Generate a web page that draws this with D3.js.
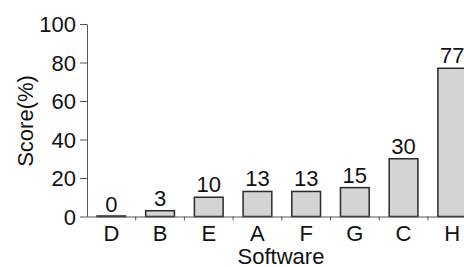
<!DOCTYPE html>
<html>
<head>
<meta charset="utf-8">
<script src="https://cdn.jsdelivr.net/npm/d3@7"></script>
<style>
  body { margin: 0; background: #fff; }
  text { font-family: "Liberation Sans", Arial, sans-serif; fill: #111; }
</style>
</head>
<body>
<div id="chart"></div>
<script>
// data
const software = ["D", "B", "E", "A", "F", "G", "C", "H"];
const scores = [0, 3, 10, 13, 13, 15, 30, 77];
const yTicks = [0, 20, 40, 60, 80, 100];

const W = 464, H = 267;
const plotLeft = 87, plotTop = 24, plotBottom = 216.5;
const fontSize = "22px";

let svg = d3.select("#chart")
    .append("svg")
    .attr("width", W)
    .attr("height", H);

// band scale runs off the right edge, like the source image
let x = d3.scaleBand()
    .domain(software)
    .range([plotLeft, plotLeft + 8 * 48.7])
    .paddingInner(0.41)
    .paddingOuter(0.205);

let y = d3.scaleLinear()
    .domain([0, 100])
    .range([plotBottom, plotTop]);

let data = software.map((s, i) => ({ name: s, score: scores[i] }));

// bars (a zero bar still shows as a flat outline)
svg.selectAll("rect.bar")
    .data(data)
    .enter()
    .append("rect")
    .attr("class", "bar")
    .attr("x", d => x(d.name))
    .attr("y", d => Math.min(y(d.score), plotBottom - 0.5))
    .attr("width", x.bandwidth())
    .attr("height", d => Math.max(0.5, y(0) - y(d.score)))
    .attr("fill", "#d4d4d4")
    .attr("stroke", "#2a2a2a")
    .attr("stroke-width", 1.5);

// value labels
svg.selectAll("text.val")
    .data(data)
    .enter()
    .append("text")
    .attr("class", "val")
    .attr("x", d => x(d.name) + x.bandwidth() / 2)
    .attr("y", d => y(d.score) - 5)
    .attr("text-anchor", "middle")
    .style("font-size", fontSize)
    .text(d => d.score);

// y axis
let yAxis = svg.append("g")
    .attr("transform", `translate(${plotLeft},0)`)
    .call(d3.axisLeft(y).tickValues(yTicks).tickSize(7).tickSizeOuter(0).tickPadding(4));
yAxis.select(".domain").attr("stroke", "#555");
yAxis.selectAll(".tick line").attr("stroke", "#555");
yAxis.selectAll(".tick text")
    .style("font-size", fontSize)
    .attr("dy", "0.36em")
    .attr("fill", "#111");

// x axis: labels centred, ticks between the bands
let xAxis = svg.append("g")
    .attr("transform", `translate(0,${plotBottom})`)
    .call(d3.axisBottom(x).tickSize(0).tickSizeOuter(0).tickPadding(9));
xAxis.select(".domain").attr("stroke", "#555");
xAxis.selectAll(".tick text")
    .style("font-size", fontSize)
    .attr("fill", "#111");

let gap = (x.step() - x.bandwidth()) / 2;
svg.selectAll("line.sep")
    .data(software.slice(1))
    .enter()
    .append("line")
    .attr("class", "sep")
    .attr("x1", d => x(d) - gap)
    .attr("x2", d => x(d) - gap)
    .attr("y1", plotBottom)
    .attr("y2", plotBottom + 4)
    .attr("stroke", "#555");

// axis titles
svg.append("text")
    .attr("transform", `translate(33, 121) rotate(-90)`)
    .attr("text-anchor", "middle")
    .style("font-size", fontSize)
    .text("Score(%)");

svg.append("text")
    .attr("x", 281)
    .attr("y", 264)
    .attr("text-anchor", "middle")
    .style("font-size", fontSize)
    .text("Software");
</script>
</body>
</html>
